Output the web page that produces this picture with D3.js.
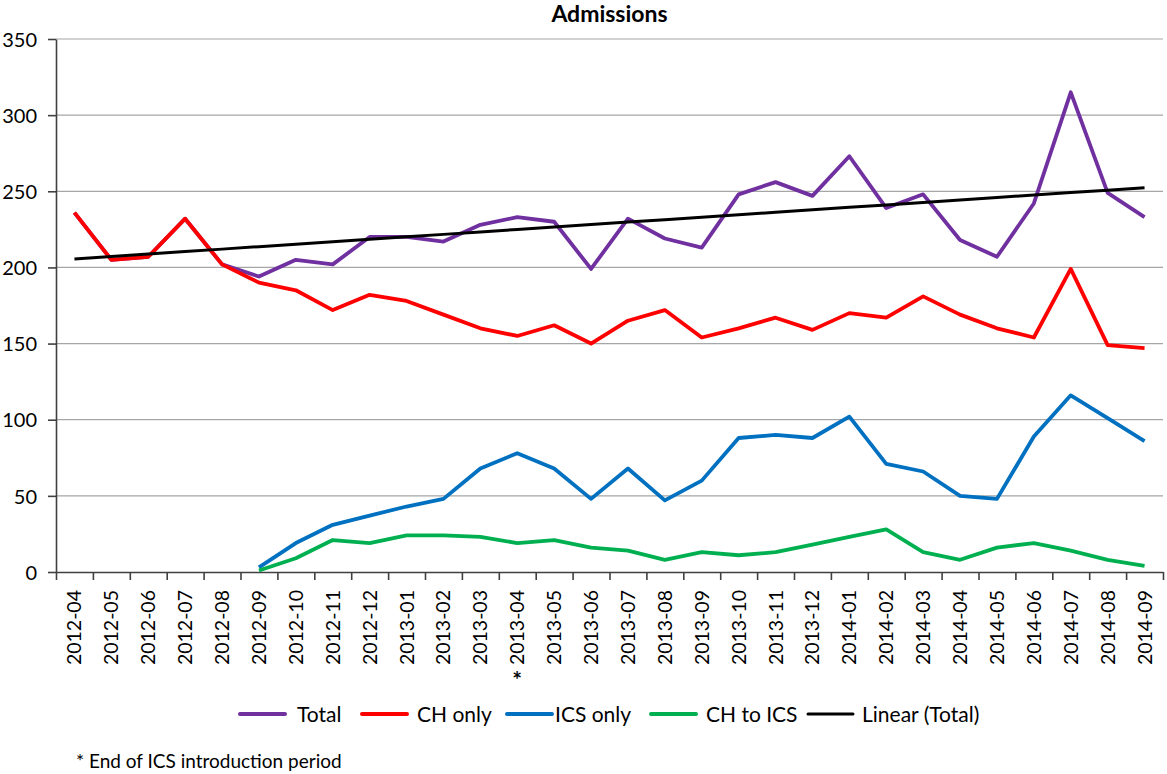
<!DOCTYPE html>
<html>
<head>
<meta charset="utf-8">
<script src="https://cdn.jsdelivr.net/npm/d3@7"></script>
<style>
  body { margin: 0; background: #fff; }
  svg text { font-family: Lato, "Open Sans", sans-serif; fill: #000; }
</style>
</head>
<body>
<div id="container"></div>
<script>
const months = ["2012-04", "2012-05", "2012-06", "2012-07", "2012-08", "2012-09", "2012-10", "2012-11", "2012-12",
  "2013-01", "2013-02", "2013-03", "2013-04", "2013-05", "2013-06", "2013-07", "2013-08", "2013-09", "2013-10",
  "2013-11", "2013-12", "2014-01", "2014-02", "2014-03", "2014-04", "2014-05", "2014-06", "2014-07", "2014-08", "2014-09"];

const total = [236, 205, 207, 232, 202, 194, 205, 202, 220, 220, 217, 228, 233, 230, 199,
  232, 219, 213, 248, 256, 247, 273, 239, 248, 218, 207, 242, 315, 249, 233];
const chOnly = [236, 205, 207, 232, 202, 190, 185, 172, 182, 178, 169, 160, 155, 162, 150,
  165, 172, 154, 160, 167, 159, 170, 167, 181, 169, 160, 154, 199, 149, 147];
const icsOnly = [null, null, null, null, null, 3, 19, 31, 37, 43, 48, 68, 78, 68, 48,
  68, 47, 60, 88, 90, 88, 102, 71, 66, 50, 48, 89, 116, 101, 86];
const chToIcs = [null, null, null, null, null, 1, 9, 21, 19, 24, 24, 23, 19, 21, 16,
  14, 8, 13, 11, 13, 18, 23, 28, 13, 8, 16, 19, 14, 8, 4];

const yTicks = [0, 50, 100, 150, 200, 250, 300, 350];
const markedMonth = "2013-04";

const series = [
  { name: "Total", values: total, color: "#7030a0" },
  { name: "CH only", values: chOnly, color: "#ff0000" },
  { name: "ICS only", values: icsOnly, color: "#0070c0" },
  { name: "CH to ICS", values: chToIcs, color: "#00b050" }
];

// linear trend of Total (least squares, like Excel)
const meanX = d3.mean(total, (d, i) => i + 1);
const meanY = d3.mean(total);
const slope = d3.sum(total, (d, i) => (i + 1 - meanX) * (d - meanY)) / d3.sum(total, (d, i) => (i + 1 - meanX) ** 2);
const intercept = meanY - slope * meanX;
const trend = total.map((d, i) => intercept + slope * (i + 1));

const width = 1167, height = 774;
const plotLeft = 56, plotRight = 1163, plotTop = 39, plotBottom = 572;

const svg = d3.select("#container").append("svg").attr("width", width).attr("height", height);

const x = d3.scaleBand().domain(months).range([plotLeft, plotRight]);
const xBound = d3.scaleLinear().domain([0, months.length]).range([plotLeft, plotRight]);
const y = d3.scaleLinear().domain([0, 350]).range([plotBottom, plotTop]);

// gridlines
svg.append("g")
  .selectAll("line")
  .data(yTicks.filter((d) => d > 0))
  .enter()
  .append("line")
  .attr("x1", plotLeft).attr("x2", plotRight)
  .attr("y1", (d) => y(d)).attr("y2", (d) => y(d))
  .attr("stroke", "#a6a6a6")
  .attr("stroke-width", 1.2);

// y axis
const yAxis = svg.append("g")
  .attr("transform", `translate(${plotLeft},0)`)
  .call(d3.axisLeft(y).tickValues(yTicks).tickSize(8).tickPadding(11).tickSizeOuter(0));
yAxis.select(".domain").attr("stroke", "#404040").attr("stroke-width", 1.6);
yAxis.selectAll(".tick line").attr("stroke", "#404040").attr("stroke-width", 1.6);
yAxis.selectAll("text").style("font-size", "20px").attr("dy", "0.36em");

// x axis: ticks between categories
const xTickAxis = svg.append("g")
  .attr("transform", `translate(0,${plotBottom})`)
  .call(d3.axisBottom(xBound).tickValues(d3.range(months.length + 1)).tickSize(8).tickFormat("").tickSizeOuter(0));
xTickAxis.select(".domain").attr("stroke", "#404040").attr("stroke-width", 1.6);
xTickAxis.selectAll(".tick line").attr("stroke", "#404040").attr("stroke-width", 1.6);

const xLabels = svg.append("g")
  .attr("transform", `translate(0,${plotBottom})`)
  .call(d3.axisBottom(x).tickSize(0).tickPadding(0));
xLabels.select(".domain").remove();
xLabels.selectAll("text")
  .style("font-size", "19.5px")
  .attr("text-anchor", "end")
  .attr("transform", "rotate(-90)")
  .attr("x", -18)
  .attr("y", 0)
  .attr("dy", "0.36em");

svg.append("text")
  .attr("x", x(markedMonth) + x.bandwidth() / 2)
  .attr("y", 688)
  .attr("text-anchor", "middle")
  .style("font-size", "23px")
  .style("font-weight", "bold")
  .text("*");

// lines
const line = d3.line()
  .defined((d) => d != null)
  .x((d, i) => x(months[i]) + x.bandwidth() / 2)
  .y((d) => y(d));

svg.append("g")
  .selectAll("path")
  .data(series)
  .enter()
  .append("path")
  .attr("d", (d) => line(d.values))
  .attr("fill", "none")
  .attr("stroke", (d) => d.color)
  .attr("stroke-width", 3.8)
  .attr("stroke-linejoin", "round");

svg.append("path")
  .attr("d", line(trend))
  .attr("fill", "none")
  .attr("stroke", "#000")
  .attr("stroke-width", 3);

// title
svg.append("text")
  .attr("x", (plotLeft + plotRight) / 2)
  .attr("y", 22)
  .attr("text-anchor", "middle")
  .style("font-size", "23px")
  .style("font-weight", "bold")
  .text("Admissions");

// legend
const legendItems = series.concat([{ name: "Linear (Total)", color: "#000" }]);
const legendX = [240, 362, 507, 651, 808];
const legendTextGap = [57, 55, 48, 55, 54];

const legend = svg.append("g")
  .selectAll("g")
  .data(legendItems)
  .enter()
  .append("g")
  .attr("transform", (d, i) => `translate(${legendX[i]},714)`);

legend.append("line")
  .attr("x1", 0).attr("x2", 45)
  .attr("stroke", (d) => d.color)
  .attr("stroke-width", (d) => d.name === "Linear (Total)" ? 3 : 4)
  .attr("stroke-linecap", "round");

legend.append("text")
  .attr("x", (d, i) => legendTextGap[i])
  .attr("dy", "0.36em")
  .style("font-size", "21px")
  .text((d) => d.name);

svg.append("text")
  .attr("x", 76)
  .attr("y", 768)
  .style("font-size", "19px")
  .text("* End of ICS introduction period");
</script>
</body>
</html>
